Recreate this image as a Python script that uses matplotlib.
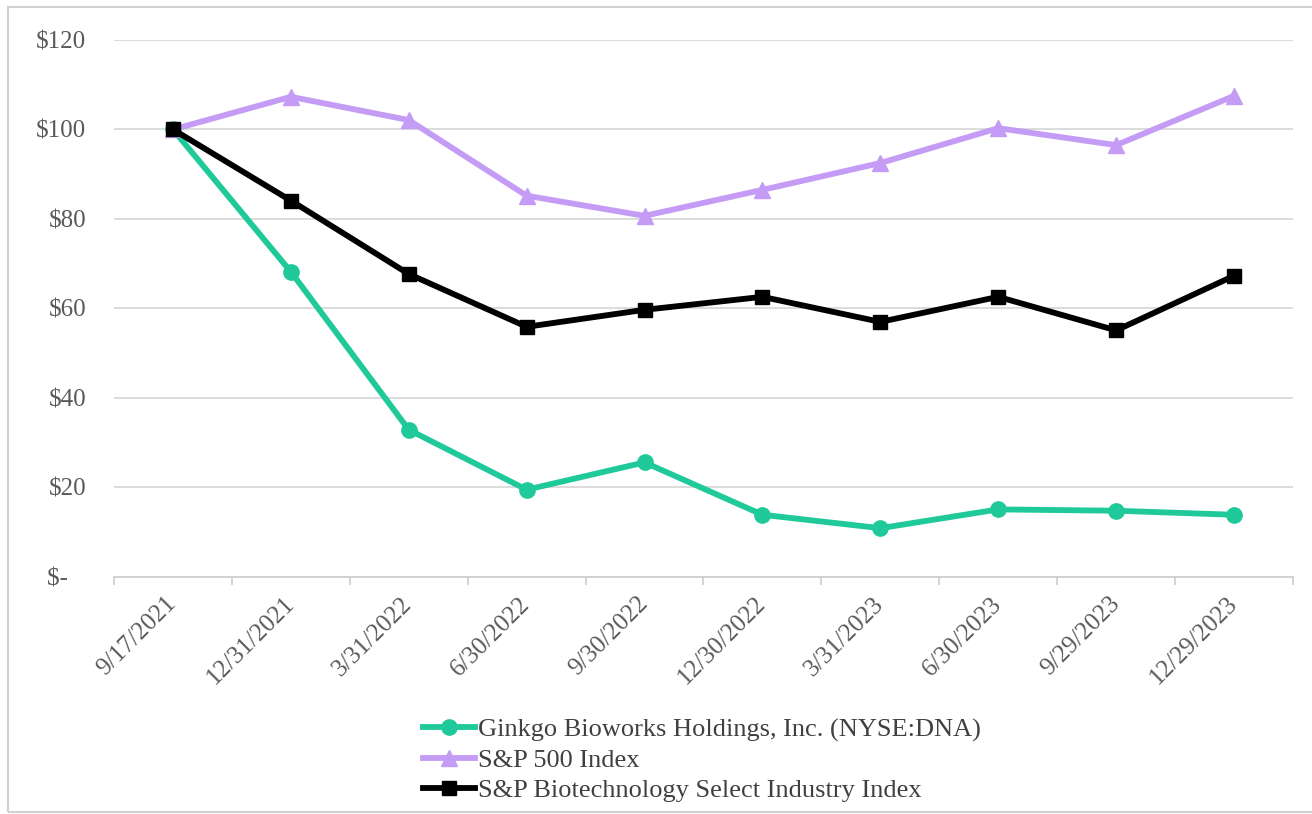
import numpy as np
import matplotlib.pyplot as plt
from matplotlib.patches import Rectangle

plt.rcParams['font.family'] = ['Liberation Serif', 'DejaVu Serif']

# data
dates = ["9/17/2021", "12/31/2021", "3/31/2022", "6/30/2022", "9/30/2022",
         "12/30/2022", "3/31/2023", "6/30/2023", "9/29/2023", "12/29/2023"]
ginkgo = [100, 68.2, 32.9, 19.5, 25.6, 13.9, 10.9, 15.1, 14.8, 13.9]
sp500 = [100, 107.3, 102.1, 85.2, 80.7, 86.5, 92.5, 100.3, 96.5, 107.5]
biotech = [100, 84.1, 67.7, 55.9, 59.7, 62.6, 57.0, 62.6, 55.1, 67.3]
yticks = [0, 20, 40, 60, 80, 100, 120]
ylabels = ["$-   ", "$20", "$40", "$60", "$80", "$100", "$120"]

fig = plt.figure(figsize=(13.12, 8.14), dpi=100)
ax = fig.add_axes([0.0869, 0.2912, 0.8986, 0.6597])

x = np.arange(len(dates))
ax.plot(x, ginkgo, color="#1fc99a", lw=4.2, marker="o", ms=11, label="Ginkgo Bioworks Holdings, Inc. (NYSE:DNA)")
ax.plot(x, sp500, color="#c59cf5", lw=4.2, marker="^", ms=11, label="S&P 500 Index")
ax.plot(x, biotech, color="black", lw=4.2, marker="s", ms=10, label="S&P Biotechnology Select Industry Index")

ax.set_xlim(-0.5, 9.5)
ax.set_ylim(0, 120)
ax.set_yticks(yticks)
ax.set_yticklabels(ylabels)
ax.set_xticks(x)
ax.set_xticklabels(dates, rotation=45, ha="right", va="center", rotation_mode="anchor")
ax.set_xticks(np.arange(-0.5, 10, 1), minor=True)
ax.tick_params(axis="x", which="major", length=0, pad=17, labelsize=18, labelcolor="#595959")
ax.tick_params(axis="x", which="minor", length=6, color="#d0d0d0", width=1.3)
ax.tick_params(axis="y", length=0, pad=20, labelsize=18, labelcolor="#595959")
ax.grid(axis="y", color="#d9d9d9", lw=1.3)
ax.set_axisbelow(True)
for s in ["top", "right", "left"]:
    ax.spines[s].set_visible(False)
ax.spines["bottom"].set_color("#d0d0d0")
ax.spines["bottom"].set_linewidth(1.3)

leg = fig.legend(loc="upper left", bbox_to_anchor=(0.312, 0.134), frameon=False,
                 fontsize=19, handlelength=2.0, handletextpad=0.1,
                 labelspacing=0.25, borderpad=0)
for t in leg.get_texts():
    t.set_color("#404040")

fig.patches.append(Rectangle((0.006, 0.003), 1.2, 0.988, transform=fig.transFigure,
                             fill=False, edgecolor="#d0d0d0", lw=1.5))

plt.savefig("out.png", dpi=100)
